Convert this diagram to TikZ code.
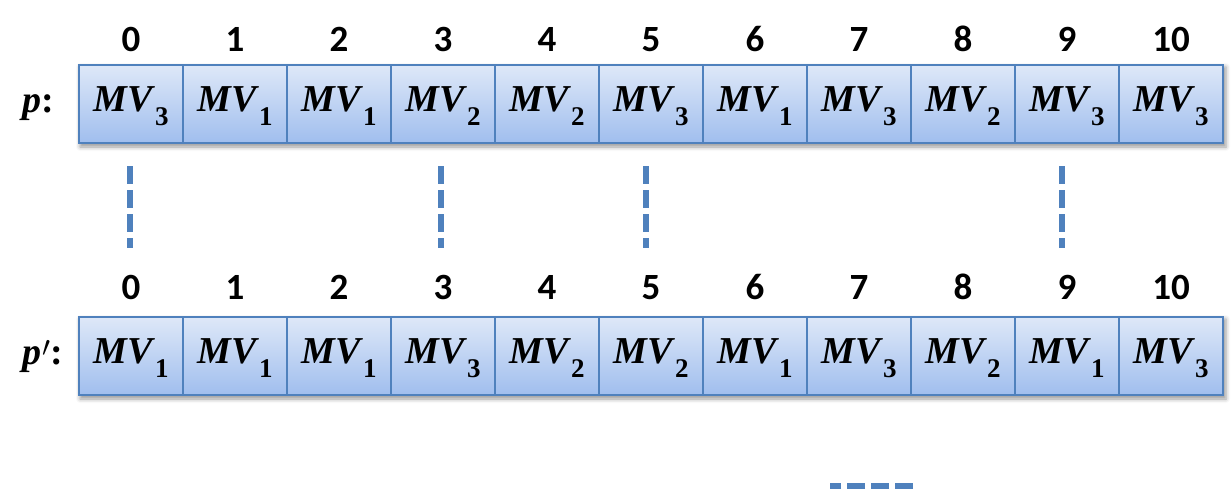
\documentclass[tikz,border=0pt]{standalone}
\usepackage{fontspec}
\newfontfamily\numfont{Carlito}
\newfontfamily\mvfont{Liberation Serif}
\usetikzlibrary{shadows.blur,fit,backgrounds}
\definecolor{cellborder}{RGB}{79,129,189}
\definecolor{celltop}{RGB}{222,232,248}
\definecolor{cellbot}{RGB}{160,190,238}
\definecolor{dashblue}{RGB}{79,129,189}
\newcommand{\mvtxt}[1]{{\itshape MV}\kern1.2pt\raisebox{-7pt}{\fontsize{13.5}{14}\selectfont\upshape #1}}
\begin{document}
\begin{tikzpicture}[x=0.5pt,y=-0.5pt,
  cellbox/.style={draw=cellborder, line width=1pt, top color=celltop, bottom color=cellbot,
    minimum width=52pt, minimum height=39pt, inner sep=0pt, text height=11.5pt, text depth=4pt,
    font=\mvfont\bfseries\fontsize{19}{21}\selectfont},
  idx/.style={font=\numfont\bfseries\fontsize{18.5}{22}\selectfont, anchor=base, inner sep=0pt},
  lbl/.style={anchor=base west, inner sep=0pt, font=\mvfont\bfseries\fontsize{19}{21}\selectfont},
  conn/.style={draw=dashblue, line width=3pt, dash pattern=on 9pt off 3pt},
  rowshadow/.style={inner sep=0pt, blur shadow={shadow xshift=1pt, shadow yshift=-1.5pt, shadow blur radius=2pt}}]
\useasboundingbox (0,0) rectangle (1231,489);
% top row
\foreach \v [count=\i from 0] in {3,1,1,2,2,3,1,3,2,3,3}
  \node[cellbox] (a\i) at ({131+104*\i},104) {\mvtxt{\v}};
% bottom row
\foreach \v [count=\i from 0] in {1,1,1,3,2,2,1,3,2,1,3}
  \node[cellbox] (b\i) at ({131+104*\i},356) {\mvtxt{\v}};
\begin{scope}[on background layer]
  \node[rowshadow, fit=(a0)(a10)] (sa) {};
  \node[rowshadow, fit=(b0)(b10)] (sb) {};
\end{scope}
% indices
\foreach \i in {0,...,10} {
  \node[idx] (n\i) at ({131+104*\i},51) {\i};
  \node[idx] (m\i) at ({131+104*\i},299) {\i};
}
% row labels
\node[lbl] (p) at (22,112) {\textit{p}:};
\node[lbl] (pp) at (22,364) {\textit{p}\kern0.5pt\raisebox{4pt}{\fontsize{14}{14}\selectfont$\prime$}:};
% dashed connectors
\draw[conn] ([shift={(-1,22)}]a0.south) -- ([shift={(-1,-68)}]b0.north);
\draw[conn] ([shift={(-2,22)}]a3.south) -- ([shift={(-2,-68)}]b3.north);
\draw[conn] ([shift={(-5,22)}]a5.south) -- ([shift={(-5,-68)}]b5.north);
\draw[conn] ([shift={(-5,22)}]a9.south) -- ([shift={(-5,-68)}]b9.north);
% partial horizontal dashes at bottom
\coordinate (h1) at (913,486);
\coordinate (h2) at (830,486);
\draw[conn] (h1) -- (h2);
\end{tikzpicture}
\end{document}
